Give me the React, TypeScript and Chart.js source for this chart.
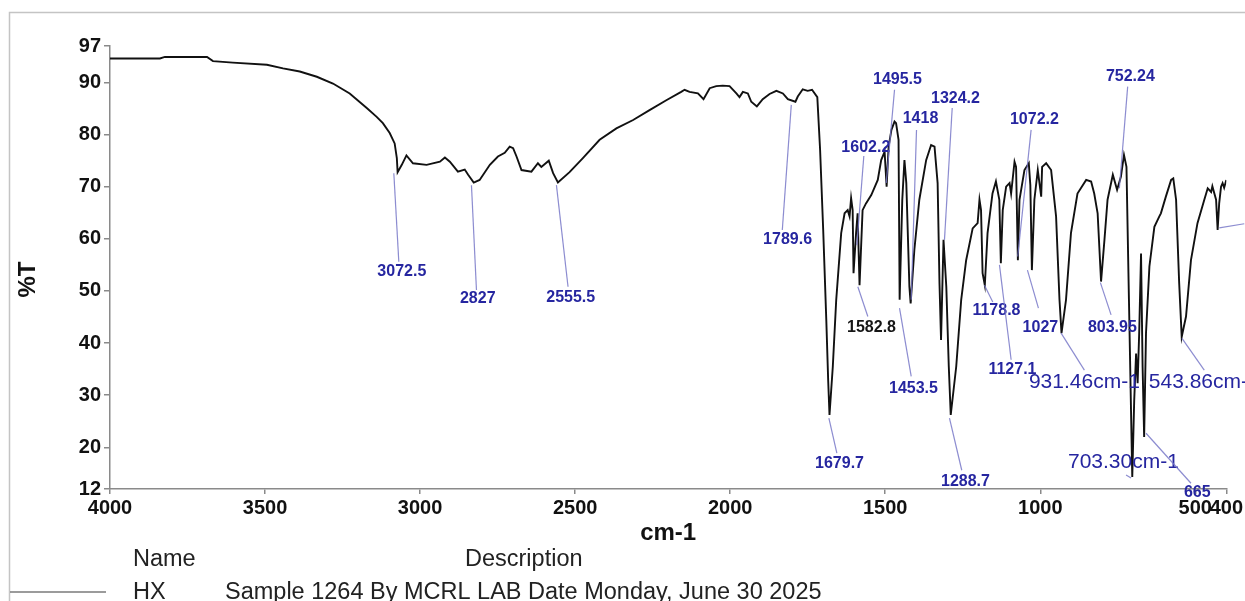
import React, { useEffect, useRef } from "react";
import { Chart, registerables } from "chart.js";

Chart.register(...registerables);

const FONT = "'Liberation Sans', Arial, Helvetica, sans-serif";

// ---------------- spectrum data (wavenumber cm-1, %T) ----------------
const wavenumbers = [
  4000, 3839, 3823, 3687, 3668, 3604, 3494, 3442, 3388, 3333, 3281, 3227, 3172, 3140, 3120, 3098, 3082, 3075,
  3072.5, 3059, 3044, 3023, 2979, 2936, 2920, 2904, 2878, 2856, 2845, 2827, 2808, 2775, 2749, 2727, 2711, 2700,
  2689, 2673, 2641, 2620, 2609, 2585, 2571, 2555.5, 2518, 2475, 2421, 2367, 2313, 2260, 2206, 2158, 2147, 2131,
  2104, 2086, 2066, 2045, 2024, 2002, 1980, 1970, 1959, 1943, 1932, 1914, 1895, 1873, 1851, 1830, 1814, 1789.6,
  1782, 1766, 1750, 1736, 1719, 1710, 1700, 1690, 1684, 1679.7, 1669, 1658, 1642, 1631, 1621, 1615, 1610, 1605,
  1602.2, 1594, 1589, 1582.8, 1573, 1562, 1545, 1524, 1513, 1502, 1495.5, 1489, 1480, 1470, 1465, 1457, 1453.5,
  1445, 1438, 1432, 1422, 1418, 1406, 1390, 1368, 1352, 1341, 1331, 1325, 1320, 1312, 1303, 1295, 1288.7, 1271,
  1255, 1239, 1218, 1202, 1196, 1191, 1186, 1178.8, 1170, 1154, 1143, 1132, 1127.1, 1121, 1110, 1099, 1094, 1083,
  1078, 1072.2, 1067, 1051, 1037, 1032, 1027, 1019, 1008, 997, 994, 981, 965, 949, 938, 931.46, 917, 901, 880,
  852, 836, 826, 815, 803.95, 793, 783, 766, 752.24, 740, 730, 722, 714, 703.3, 697, 691, 686, 681, 675, 670, 665,
  659, 648, 632, 616, 611, 595, 578, 571, 562, 552, 543.86, 530, 514, 493, 471, 460, 449, 445, 433, 428, 423, 417,
  412, 407, 400,
];
const transmittance = [
  94.6, 94.6, 94.9, 94.9, 94.1, 93.8, 93.4, 92.7, 92.1, 91.1, 89.8, 87.9, 85.1, 83.4, 82.2, 80.3, 78.3, 75.5,
  72.8, 74.2, 76.0, 74.5, 74.2, 74.8, 75.6, 74.8, 72.9, 73.3, 72.3, 70.8, 71.3, 74.2, 75.8, 76.5, 77.7, 77.4,
  75.8, 73.2, 72.9, 74.5, 73.8, 75.0, 72.6, 70.8, 72.8, 75.5, 79.0, 81.2, 82.8, 84.7, 86.6, 88.2, 88.6, 88.2,
  87.9, 86.8, 88.9, 89.3, 89.4, 89.3, 87.9, 87.2, 88.2, 87.9, 86.3, 85.4, 86.8, 87.8, 88.4, 87.9, 86.8, 86.3,
  87.3, 88.7, 88.4, 88.6, 87.2, 77.1, 61.7, 44.4, 32.9, 26.2, 35.5, 48.3, 61.1, 64.9, 65.5, 64.3, 67.8, 65.5,
  53.4, 61.1, 64.9, 51.1, 65.5, 66.8, 68.4, 71.3, 75.1, 76.7, 70.0, 77.7, 80.9, 82.5, 82.2, 79.0, 48.3,
  67.5, 75.1, 70.7, 50.8, 47.6, 57.9, 67.5, 75.1, 78.0, 77.7, 70.7, 51.5, 40.6, 59.8, 50.8, 35.5, 26.2, 35.5,
  48.3, 55.9, 62.0, 63.0, 67.5, 65.5, 53.4, 51.1, 61.1, 68.7, 71.0, 67.5, 55.3, 65.5, 70.0, 70.7, 68.7, 74.8,
  73.8, 55.9, 67.5, 73.2, 74.5, 70.3, 54.0, 67.5, 73.2, 68.1, 73.8, 74.5, 73.2, 64.3, 48.3, 41.9, 48.3, 61.1, 68.7,
  71.3, 71.0, 68.7, 64.9, 51.8, 59.8, 67.5, 72.3, 69.4, 71.9, 76.1, 73.8, 48.3, 14.3, 29.1, 38.0, 32.3, 41.9, 57.2, 35.5, 22.0,
  41.9, 54.7, 62.3, 64.3, 64.9, 68.1, 71.3, 71.6, 67.5, 51.5, 41.2, 45.1, 55.9, 63.0, 67.5, 69.7, 69.0, 70.1, 67.5, 61.7, 66.8, 70.0,
  70.7, 69.8, 71.3,
];

// ---------------- axes ----------------
const xTickValues = [4000, 3500, 3000, 2500, 2000, 1500, 1000, 500, 400];
const yTickValues = [97, 90, 80, 70, 60, 50, 40, 30, 20, 12];
const xAxisTitle = "cm-1";
const yAxisTitle = "%T";

// ---------------- peak annotations (data coordinates) ----------------
const peakTexts = [
  "3072.5", "2827", "2555.5", "1789.6", "1602.2", "1495.5", "1418", "1324.2", "1582.8", "1453.5", "1679.7",
  "1288.7", "1178.8", "1127.1", "1072.2", "1027", "931.46cm-1", "803.95", "752.24", "703.30cm-1", "543.86cm-1",
  "665", "",
];
const leaderFrom = [
  [3084.7, 72.6], [2834.3, 70.3], [2560.3, 70.3], [1802.9, 85.7], [1591.5, 58.8], [1496.8, 70.7], [1416.2, 48.3],
  [1308.9, 59.8], [1588.3, 50.8], [1453.9, 46.7], [1681.7, 25.6], [1292.8, 25.6], [1179.9, 51.1], [1131.6, 55.0],
  [1072.7, 56.6], [1041.4, 54.0], [932.8, 41.9], [806.1, 51.6], [744.9, 69.7], [723.3, 14.7], [542.9, 40.9],
  [658.9, 22.7], [422.6, 62.1],
];
const leaderTo = [
  [3068.6, 55.6], [2818.2, 50.2], [2522.9, 50.8], [1831.9, 61.7], [1569.0, 75.9], [1470.0, 88.6], [1399.1, 80.9],
  [1284.0, 85.1], [1556.1, 45.1], [1416.2, 33.6], [1656.0, 18.9], [1253.2, 15.6], [1153.2, 47.9], [1093.9, 36.8],
  [1029.5, 80.9], [1005.9, 46.7], [857.7, 34.8], [771.6, 45.4], [718.1, 89.2], [707.2, 14.1], [471.1, 34.8],
  [513.9, 13.1], [342.0, 62.9],
];
const labelAt = [
  [3058.9, 53.8], [2814.0, 48.5], [2514.2, 48.8], [1814.9, 59.8], [1562.5, 77.6], [1460.4, 90.5], [1386.2, 83.0],
  [1273.4, 87.0], [1544.2, 42.9], [1408.8, 31.2], [1647.3, 16.8], [1241.2, 13.5], [1141.3, 46.2], [1089.7, 35.0],
  [1018.8, 82.8], [999.5, 42.9], [857.7, 32.5], [767.4, 42.9], [709.4, 91.1], [731.9, 17.2], [471.1, 32.5],
  [493.5, 11.4], [300.0, 62.9],
];
const largeLabelTexts = ["931.46cm-1", "703.30cm-1", "543.86cm-1"];
const blackLabelTexts = ["1582.8"];

// ---------------- sample table below the chart ----------------
const tableHeader = ["Name", "Description"];
const tableRow = ["HX", "Sample 1264 By MCRL LAB Date Monday, June 30 2025"];

const framePlugin = {
  id: "frameAndNotes",
  beforeDraw(chart: any) {
    const { ctx } = chart;
    ctx.save();
    ctx.fillStyle = "#ffffff";
    ctx.fillRect(0, 0, chart.width, chart.height);
    ctx.strokeStyle = "#c4c4c4";
    ctx.lineWidth = 1.5;
    ctx.beginPath();
    ctx.moveTo(9.5, chart.height);
    ctx.lineTo(9.5, 12.5);
    ctx.lineTo(chart.width, 12.5);
    ctx.stroke();
    ctx.restore();
  },
  afterDatasetsDraw(chart: any) {
    const { ctx } = chart;
    const xs = chart.scales.x;
    const ys = chart.scales.y;
    ctx.save();
    peakTexts.forEach((text, i) => {
      const [v0, t0] = leaderFrom[i];
      const [v1, t1] = leaderTo[i];
      ctx.strokeStyle = "rgba(120,120,200,0.85)";
      ctx.lineWidth = 1.2;
      ctx.beginPath();
      ctx.moveTo(xs.getPixelForValue(v0), ys.getPixelForValue(t0));
      ctx.lineTo(xs.getPixelForValue(v1), ys.getPixelForValue(t1));
      ctx.stroke();
      if (!text) return;
      const [vt, tt] = labelAt[i];
      const large = largeLabelTexts.includes(text);
      ctx.font = large ? `21px ${FONT}` : `bold 16px ${FONT}`;
      ctx.fillStyle = blackLabelTexts.includes(text) ? "#151515" : "#2626a0";
      ctx.textAlign = "center";
      ctx.textBaseline = "middle";
      ctx.fillText(text, xs.getPixelForValue(vt), ys.getPixelForValue(tt));
    });
    ctx.restore();
  },
  afterDraw(chart: any) {
    const { ctx, chartArea } = chart;
    ctx.save();
    // y axis title
    ctx.translate(28, (chartArea.top + chartArea.bottom) / 2 + 12);
    ctx.rotate(-Math.PI / 2);
    ctx.font = `bold 24px ${FONT}`;
    ctx.fillStyle = "#111";
    ctx.textAlign = "center";
    ctx.textBaseline = "middle";
    ctx.fillText(yAxisTitle, 0, 0);
    ctx.restore();

    ctx.save();
    ctx.font = `23.5px ${FONT}`;
    ctx.fillStyle = "#222";
    ctx.textAlign = "left";
    ctx.textBaseline = "alphabetic";
    ctx.fillText(tableHeader[0], 133, 566);
    ctx.fillText(tableHeader[1], 465, 566);
    ctx.fillText(tableRow[0], 133, 599);
    ctx.fillText(tableRow[1], 225, 599);
    ctx.strokeStyle = "#7a7a7a";
    ctx.lineWidth = 1.5;
    ctx.beginPath();
    ctx.moveTo(10, 592);
    ctx.lineTo(106, 592);
    ctx.stroke();
    ctx.restore();
  },
};

export default function App() {
  const canvasRef = useRef<HTMLCanvasElement | null>(null);

  useEffect(() => {
    if (!canvasRef.current) return;
    const points = wavenumbers.map((w, i) => ({ x: w, y: transmittance[i] }));
    const tickFont = { family: FONT, size: 20, weight: "bold" as const };
    const axisColor = "#8a8a8a";
    const chart = new Chart(canvasRef.current, {
      type: "scatter",
      data: {
        datasets: [
          {
            label: "HX",
            data: points,
            showLine: true,
            borderColor: "#111111",
            borderWidth: 1.9,
            pointRadius: 0,
            tension: 0,
          },
        ],
      },
      options: {
        responsive: false,
        animation: false,
        events: [],
        layout: { padding: { left: 10, right: 18, top: 46, bottom: 52 } },
        plugins: {
          legend: { display: false },
          tooltip: { enabled: false },
        },
        scales: {
          x: {
            type: "linear",
            reverse: true,
            min: 400,
            max: 4000,
            afterBuildTicks: (s: any) => {
              s.ticks = xTickValues.map((value) => ({ value }));
            },
            afterFit: (s: any) => {
              s.height = 60;
            },
            ticks: {
              autoSkip: false,
              maxRotation: 0,
              minRotation: 0,
              padding: 2,
              color: "#111",
              font: tickFont,
              callback: (v: any) => String(v),
            },
            grid: { drawOnChartArea: false, drawTicks: true, tickLength: 5, color: axisColor, lineWidth: 1.5 },
            border: { display: true, color: axisColor, width: 1.5 },
            title: {
              display: true,
              text: xAxisTitle,
              color: "#111",
              font: { family: FONT, size: 24, weight: "bold" },
              padding: { top: 0, bottom: 1 },
            },
          },
          y: {
            type: "linear",
            min: 12,
            max: 97,
            afterBuildTicks: (s: any) => {
              s.ticks = yTickValues.map((value) => ({ value }));
            },
            afterFit: (s: any) => {
              s.width = 100;
            },
            ticks: {
              autoSkip: false,
              padding: 3,
              color: "#111",
              font: tickFont,
              callback: (v: any) => String(v),
            },
            grid: { drawOnChartArea: false, drawTicks: true, tickLength: 6, color: axisColor, lineWidth: 1.5 },
            border: { display: true, color: axisColor, width: 1.5 },
          },
        },
      },
      plugins: [framePlugin],
    });
    return () => chart.destroy();
  }, []);

  return (
    <div style={{ position: "absolute", left: 0, top: 0, width: 1245, height: 601, background: "#fff" }}>
      <canvas ref={canvasRef} width={1245} height={601} style={{ display: "block", width: 1245, height: 601 }} />
    </div>
  );
}
